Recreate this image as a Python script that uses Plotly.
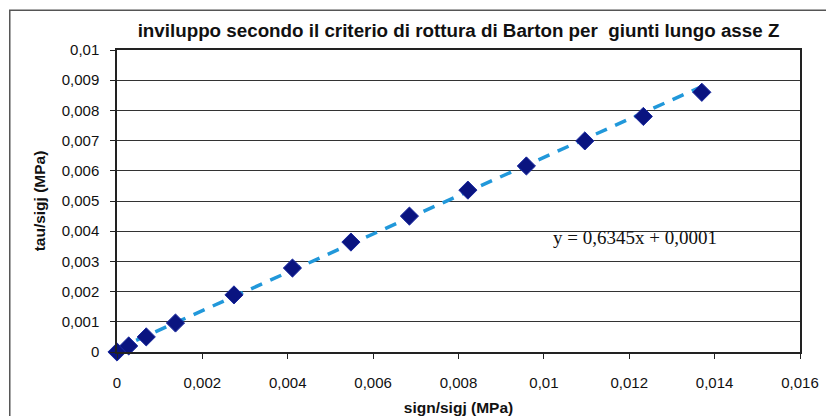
import plotly.graph_objects as go

sign_sigj = [0.0, 0.000274, 0.000685, 0.00137, 0.00274, 0.00411, 0.00548,
             0.00685, 0.00822, 0.00959, 0.01096, 0.01233, 0.0137]
tau_sigj = [0.0, 0.0002, 0.0005, 0.00096, 0.00189, 0.00278, 0.00364,
            0.0045, 0.00536, 0.00616, 0.00699, 0.0078, 0.0086]
slope = 0.6345
intercept = 0.0001
trend_x = [0.0, 0.0138]
trend_y = [slope * v + intercept for v in trend_x]

x_ticks = [0, 0.002, 0.004, 0.006, 0.008, 0.01, 0.012, 0.014, 0.016]
x_labels = ["0", "0,002", "0,004", "0,006", "0,008", "0,01", "0,012", "0,014", "0,016"]
y_ticks = [0, 0.001, 0.002, 0.003, 0.004, 0.005, 0.006, 0.007, 0.008, 0.009, 0.01]
y_labels = ["0", "0,001", "0,002", "0,003", "0,004", "0,005", "0,006", "0,007", "0,008", "0,009", "0,01"]

fig = go.Figure()
fig.add_trace(go.Scatter(x=trend_x, y=trend_y, mode="lines",
                         line=dict(color="#2198da", width=3.5, dash="12px,9px"),
                         cliponaxis=False, showlegend=False))
fig.add_trace(go.Scatter(x=sign_sigj, y=tau_sigj, mode="markers",
                         marker=dict(symbol="diamond", size=14, color="#0a1480",
                                     line=dict(color="#1a2aa0", width=1)),
                         cliponaxis=False, showlegend=False))

fig.add_annotation(x=0.01214, y=0.0038, xref="x", yref="y",
                   text="y = 0,6345x + 0,0001", showarrow=False,
                   font=dict(family="Liberation Serif, Times New Roman, serif", size=19, color="#111"))

fig.add_shape(type="rect", xref="paper", yref="paper",
              x0=-0.157, x1=1.06, y0=-0.3, y1=1.132,
              line=dict(color="#555", width=1.5), layer="below")

fig.update_layout(
    width=826, height=416,
    margin=dict(l=117, r=26, t=50, b=64, autoexpand=False),
    paper_bgcolor="white", plot_bgcolor="white",
    font=dict(family="Liberation Sans, Arial, sans-serif", size=15, color="#111"),
    title=dict(text="<b>inviluppo secondo il criterio di rottura di Barton per  giunti lungo asse Z</b>",
               x=0.5, xref="paper", xanchor="center", y=0.928, yanchor="middle",
               font=dict(size=18.8, color="#111")),
    xaxis=dict(range=[0, 0.016], tickvals=x_ticks, ticktext=x_labels,
               showgrid=False, zeroline=False, showline=True, linecolor="#222",
               linewidth=1.5, mirror=True, ticks="outside", ticklen=5,
               tickcolor="#222", automargin=False, ticklabelstandoff=11,
               title=dict(text="<b>sign/sigj (MPa)</b>", font=dict(size=15.5), standoff=12)),
    yaxis=dict(range=[0, 0.01], tickvals=y_ticks, ticktext=y_labels,
               showgrid=True, gridcolor="#333", gridwidth=1.2, zeroline=False,
               showline=True, linecolor="#222", linewidth=1.5, mirror=True,
               ticks="outside", ticklen=5, tickcolor="#222", automargin=False,
               ticklabelstandoff=8,
               title=dict(text="<b>tau/sigj (MPa)</b>", font=dict(size=15.5), standoff=12)),
)

fig.write_html("out.html", config={"displayModeBar": False},
               post_script="document.body.style.margin='0';document.body.style.overflow='hidden';")
